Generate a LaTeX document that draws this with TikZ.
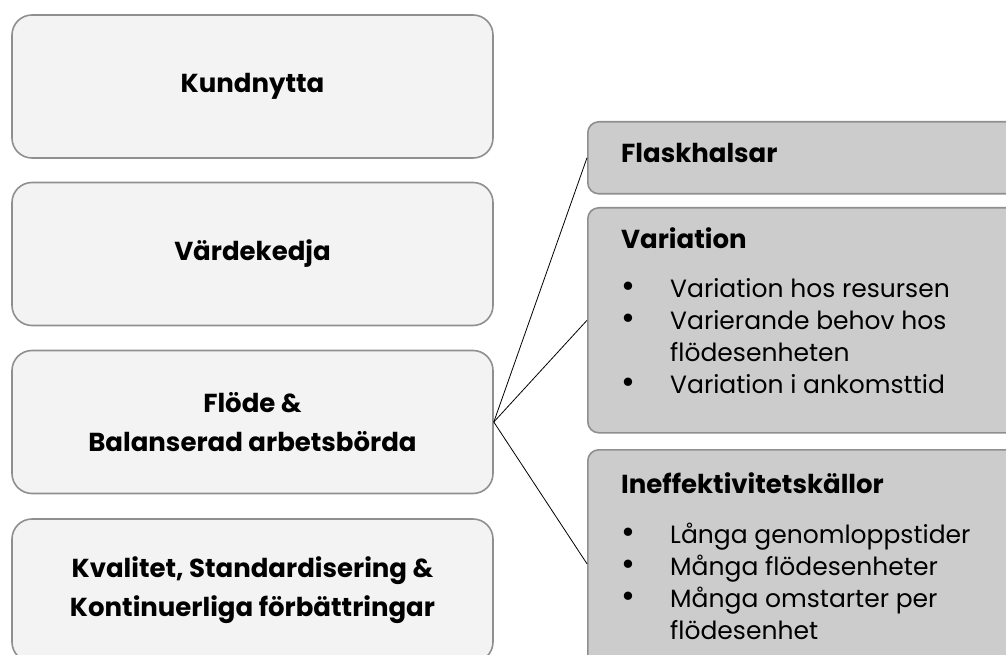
\documentclass[tikz,border=0pt]{standalone}
\usepackage{fontspec}
\setmainfont{Poppins}
\usetikzlibrary{positioning}

\definecolor{leftfill}{HTML}{F3F3F3}
\definecolor{rightfill}{HTML}{CCCCCC}
\definecolor{edgegray}{HTML}{8F8F8F}

\newcommand{\bpt}{\scalebox{1.35}{\textbullet}}

\begin{document}
\begin{tikzpicture}[x=1pt,y=-1pt,
  pillar/.style={draw=edgegray,line width=1.6pt,fill=leftfill,rounded corners=20pt,
    minimum width=481pt,minimum height=143pt,align=center,
    font=\bfseries\fontsize{26}{39}\selectfont},
  factor/.style={draw=edgegray,line width=1.6pt,fill=rightfill,rounded corners=11pt,
    anchor=north west,inner sep=0pt},
  heading/.style={anchor=base west,inner sep=0pt,font=\bfseries\fontsize{26}{32}\selectfont},
  bullets/.style={anchor=base west,inner sep=0pt,font=\fontsize{25}{32}\selectfont}]
\useasboundingbox (0,0) rectangle (1006,655);
\clip (0,0) rectangle (1006,655);

% left column
\node[pillar] (kund) at (252.5,86.5) {Kundnytta};
\node[pillar] (varde) at (252.5,254) {Värdekedja};
\node[pillar] (flode) at (252.5,422) {Flöde \&\\Balanserad arbetsbörda};
\node[pillar] (kval) at (252.5,590.5) {Kvalitet, Standardisering \&\\Kontinuerliga förbättringar};

% right column
\node[factor,minimum width=460pt,minimum height=72pt] (flask) at (587,121) {};
\node[factor,minimum width=460pt,minimum height=225pt] (vari) at (587,207) {};
\node[factor,minimum width=460pt,minimum height=228pt] (ineff) at (587,449) {};

\node[heading] (flaskh) at (621,163) {Flaskhalsar};
\node[heading] (varih) at (621,248) {Variation};
\node[heading] (ineffh) at (621,493) {Ineffektivitetskällor};

\node[bullets] (varil) at (621,297) {\begin{tabular}[t]{@{}p{49pt}@{}l@{}}
\bpt & Variation hos resursen\\
\bpt & Varierande behov hos\\
     & flödesenheten\\
\bpt & Variation i ankomsttid
\end{tabular}};
\node[bullets] (ineffl) at (621,543) {\begin{tabular}[t]{@{}p{49pt}@{}l@{}}
\bpt & Långa genomloppstider\\
\bpt & Många flödesenheter\\
\bpt & Många omstarter per\\
     & flödesenhet
\end{tabular}};

% connectors
\draw[line width=0.8pt] (flode.east) -- (flask.west);
\draw[line width=0.8pt] (flode.east) -- (vari.west);
\draw[line width=0.8pt] (flode.east) -- (ineff.west);
\end{tikzpicture}
\end{document}
